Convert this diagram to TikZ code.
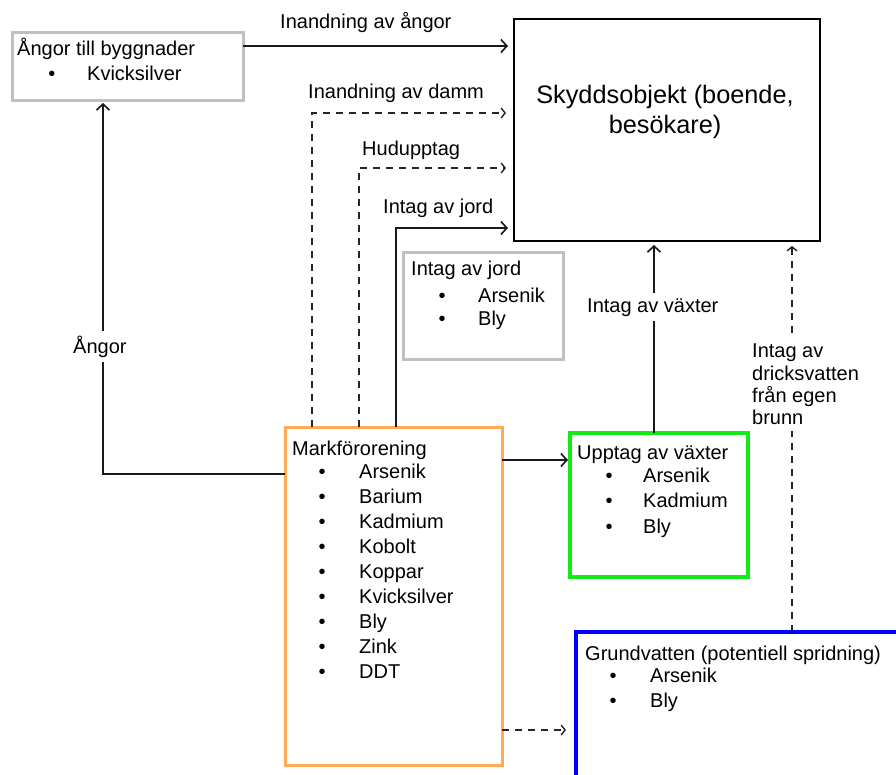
\documentclass[tikz,border=0pt]{standalone}
\usepackage{fontspec}
\setmainfont{Liberation Sans}
\usetikzlibrary{arrows.meta,calc}
\definecolor{boxgray}{RGB}{192,192,192}
\definecolor{boxorange}{RGB}{255,170,85}
\definecolor{boxgreen}{RGB}{20,235,20}
\definecolor{boxblue}{RGB}{0,0,255}
\newcommand\fsmall{\fontsize{20}{24}\selectfont}
\newcommand\fbig{\fontsize{25.3}{30}\selectfont}
\begin{document}
\begin{tikzpicture}[x=1pt,y=-1pt,
  frame/.style={rectangle, inner sep=0pt, outer sep=0pt, anchor=north west},
  txt/.style={anchor=base west, inner sep=0pt, font=\fsmall},
  bul/.style={anchor=base, inner sep=0pt, font=\fsmall},
  lab/.style={anchor=base west, inner xsep=1pt, inner ysep=5pt, font=\fsmall, fill=white},
  arr/.style={line width=1.6pt, draw=black!90, -{Straight Barb[length=6pt,width=13pt]}},
  darr/.style={line width=1.4pt, draw=black!85, dash pattern=on 7pt off 6pt, -{Straight Barb[length=4pt,width=10pt]}},
]
\clip (0,0) rectangle (896,774);
\fill[white] (0,0) rectangle (896,774);

% boxes
\node[frame, draw=boxgray, line width=3pt, minimum width=231pt, minimum height=68pt] (angbox) at (12,32) {};
\node[frame, draw=black, line width=2pt, minimum width=306pt, minimum height=222pt] (sky) at (514,19) {};
\node[frame, draw=boxgray, line width=3pt, minimum width=160pt, minimum height=107pt] (jordbox) at (403,252) {};
\node[frame, draw=boxorange, line width=3pt, minimum width=217pt, minimum height=338pt] (mark) at (285,427) {};
\node[frame, draw=boxgreen, line width=3.5pt, minimum width=178pt, minimum height=144pt] (upp) at (570,433) {};
\node[frame, draw=boxblue, line width=4pt, minimum width=334pt, minimum height=158pt] (grund) at (576,632) {};

% box texts
\node[txt] (ang1) at (17,55) {Ångor till byggnader};
\node[bul] (angb1) at (52,80) {•};
\node[txt] (ang2) at (87,80) {Kvicksilver};

\node[anchor=base, inner sep=0pt, font=\fbig] (sky1) at (665,103) {Skyddsobjekt (boende,};
\node[anchor=base, inner sep=0pt, font=\fbig] (sky2) at (665,133) {besökare)};

\node[txt] (jt) at (411,275) {Intag av jord};
\node[bul] (jb1) at (442,302) {•};
\node[txt] (j1) at (478,302) {Arsenik};
\node[bul] (jb2) at (442,325) {•};
\node[txt] (j2) at (478,325) {Bly};

\node[txt] (mt) at (292,455) {Markförorening};
\foreach \y/\t [count=\i] in {478/Arsenik,503/Barium,528/Kadmium,553/Kobolt,578/Koppar,603/Kvicksilver,628/Bly,653/Zink,678/DDT}{
  \node[bul] (mb\i) at (322,\y) {•};
  \node[txt] (m\i) at (359,\y) {\t};
}

\node[txt] (ut) at (577,459) {Upptag av växter};
\foreach \y/\t [count=\i] in {482/Arsenik,507/Kadmium,533/Bly}{
  \node[bul] (ub\i) at (609,\y) {•};
  \node[txt] (u\i) at (643,\y) {\t};
}

\node[txt] (gt) at (585,660) {Grundvatten (potentiell spridning)};
\foreach \y/\t [count=\i] in {682/Arsenik,707/Bly}{
  \node[bul] (gb\i) at (613,\y) {•};
  \node[txt] (g\i) at (650,\y) {\t};
}

% connectors
\draw[arr] ($(angbox.north east)+(0,14)$) -- ($(angbox.north east -| sky.west)+(-6,14)$);
\draw[darr] ($(mark.north west)+(27,0)$) |- ($(sky.north west)+(-8,94)$);
\draw[darr] ($(mark.north west)+(74,0)$) |- ($(sky.north west)+(-8,149)$);
\draw[arr] ($(mark.north west)+(111,0)$) |- ($(sky.north west)+(-6,209)$);
\draw[arr] ($(mark.north west)+(0,47)$) -| ($(angbox.south west)+(91,3)$);
\draw[arr] ($(mark.north east)+(0,33)$) -- ($(mark.north east -| upp.west)+(-2,33)$);
\draw[arr] ($(upp.north west)+(84,0)$) -- ($(upp.north west |- sky.south)+(84,4)$);
\draw[darr] ($(grund.north west)+(216,0)$) -- ($(grund.north west |- sky.south)+(216,5)$);
\draw[darr] ($(mark.north east)+(0,303)$) -- ($(mark.north east -| grund.west)+(-10,303)$);

% connector labels
\node[txt] (l1) at (280,28) {Inandning av ångor};
\node[txt] (l2) at (308,98) {Inandning av damm};
\node[txt] (l3) at (362,155) {Hudupptag};
\node[txt] (l4) at (383,213) {Intag av jord};
\node[lab] (l5) at (72,353) {Ångor};
\node[lab] (l6) at (586,312) {Intag av växter};
\node[anchor=north west, align=left, fill=white, inner xsep=1pt, inner ysep=6pt,
      font=\fontsize{20}{22.3}\selectfont] (l7) at (751,338)
      {Intag av\\dricksvatten\\från egen\\brunn};
\end{tikzpicture}
\end{document}
